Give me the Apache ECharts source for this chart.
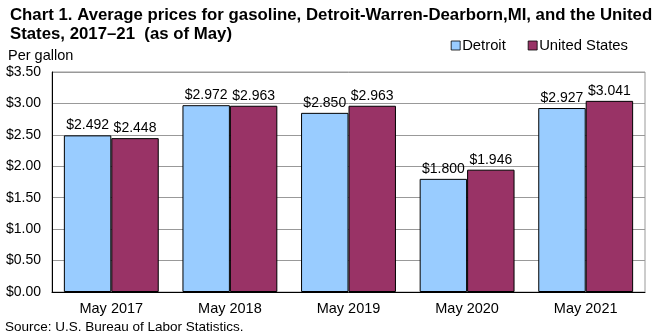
<!DOCTYPE html>
<html><head><meta charset="utf-8">
<script src="https://cdn.jsdelivr.net/npm/echarts@6/dist/echarts.min.js"></script>
<style>html,body{margin:0;padding:0;background:#fff}#c{width:660px;height:334px}</style>
</head><body><div id="c"></div>
<script>
const categories = ['May 2017','May 2018','May 2019','May 2020','May 2021'];
const detroit = [2.492, 2.972, 2.850, 1.800, 2.927];
const unitedStates = [2.448, 2.963, 2.963, 1.946, 3.041];
const seriesNames = ['Detroit','United States'];

const chart = echarts.init(document.getElementById('c'), null, {renderer:'canvas'});
const font = 'Arial, "Liberation Sans", sans-serif';
const lbl = {show:true, position:'top', distance:3, color:'#000', fontFamily:font, fontSize:14,
  formatter: p => '$' + p.value.toFixed(3)};
chart.setOption({
  animation:false,
  title:{text:'Chart 1. Average prices for gasoline, Detroit-Warren-Dearborn,MI, and the United\nStates, 2017–21  (as of May)',
    left:5, top:1, textStyle:{fontFamily:font, fontWeight:'bold', fontSize:16.8, lineHeight:19, color:'#000'}},
  legend:{right:27, top:33, icon:'rect', itemWidth:9, itemHeight:9, itemGap:22,
    textStyle:{fontFamily:font, fontSize:14.8, color:'#000', padding:[0,0,0,-3]},
    itemStyle:{borderColor:'#000', borderWidth:0.8},
    data:seriesNames},
  graphic:[
    {type:'text', left:8, top:48, style:{text:'Per gallon', font:'14.5px '+font, fill:'#000'}},
    {type:'text', left:5, top:320, style:{text:'Source: U.S. Bureau of Labor Statistics.', font:'13.5px '+font, fill:'#000'}}
  ],
  grid:{left:52, right:15, top:72, bottom:42, containLabel:false,
    show:true, borderColor:'#999', borderWidth:1},
  xAxis:{type:'category', data:categories,
    axisLine:{lineStyle:{color:'#000'}}, axisTick:{show:false},
    axisLabel:{fontFamily:font, fontSize:14.5, color:'#000', margin:9}},
  yAxis:{type:'value', min:0, max:3.5, interval:0.5,
    axisLine:{show:true, lineStyle:{color:'#000'}}, axisTick:{show:false},
    splitLine:{show:true, lineStyle:{color:'#999', width:1}},
    axisLabel:{fontFamily:font, fontSize:14, color:'#000', margin:11,
      formatter: v => '$' + v.toFixed(2)}},
  series:[
    {name:seriesNames[0], type:'bar', data:detroit, barWidth:'40%', barGap:'0%',
      itemStyle:{color:'#99CCFF', borderColor:'#000', borderWidth:1}, label:lbl},
    {name:seriesNames[1], type:'bar', data:unitedStates, barWidth:'40%',
      itemStyle:{color:'#993366', borderColor:'#000', borderWidth:1}, label:lbl}
  ]
});
</script></body></html>
